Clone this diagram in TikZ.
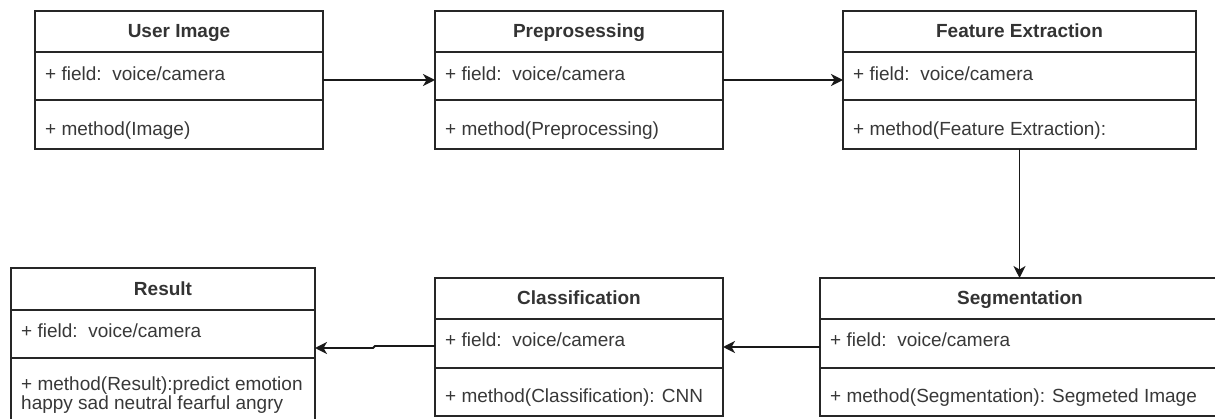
\documentclass[tikz,border=0pt]{standalone}
\usepackage{fontspec}
\setmainfont{Liberation Sans}
\usetikzlibrary{arrows.meta,calc}
\begin{document}
\begin{tikzpicture}[x=1pt,y=-1pt,
  sect/.style={draw=black!85, line width=1.8pt, inner sep=0pt, outer sep=0pt, anchor=north west},
  ttl/.style={anchor=base, inner sep=0pt, font=\bfseries\fontsize{19}{22}\selectfont, text=black!80},
  txt/.style={anchor=base west, inner sep=0pt, font=\fontsize{19}{22}\selectfont, text=black!78},
  conn/.style={draw=black!90, line width=1.8pt, -{Stealth[length=12pt,width=12pt,inset=3.5pt]}}]
\useasboundingbox (0,0) rectangle (1215,419);
\clip (0,0) rectangle (1215,419);

% User Image
\node[sect, minimum width=288pt, minimum height=41pt] (ui-t) at (35,11) {};
\node[sect, minimum width=288pt, minimum height=48pt] (ui-f) at (ui-t.south west) {};
\node[sect, minimum width=288pt, minimum height=49pt] (ui-m) at (ui-f.south west) {};
\node[ttl] (ui-tl) at ($(ui-t.north)+(0,27)$) {User Image};
\node[txt] (ui-fl) at ($(ui-f.north west)+(10,29)$) {+ field:\ \ voice/camera};
\node[txt] (ui-ml) at ($(ui-m.north west)+(10,36)$) {+ method(Image)};

% Preprocessing
\node[sect, minimum width=288pt, minimum height=41pt] (pp-t) at (435,11) {};
\node[sect, minimum width=288pt, minimum height=48pt] (pp-f) at (pp-t.south west) {};
\node[sect, minimum width=288pt, minimum height=49pt] (pp-m) at (pp-f.south west) {};
\node[ttl] (pp-tl) at ($(pp-t.north)+(0,27)$) {Preprosessing};
\node[txt] (pp-fl) at ($(pp-f.north west)+(10,29)$) {+ field:\ \ voice/camera};
\node[txt] (pp-ml) at ($(pp-m.north west)+(10,36)$) {+ method(Preprocessing)};

% Feature Extraction
\node[sect, minimum width=353pt, minimum height=41pt] (fe-t) at (843,11) {};
\node[sect, minimum width=353pt, minimum height=48pt] (fe-f) at (fe-t.south west) {};
\node[sect, minimum width=353pt, minimum height=49pt] (fe-m) at (fe-f.south west) {};
\node[ttl] (fe-tl) at ($(fe-t.north)+(0,27)$) {Feature Extraction};
\node[txt] (fe-fl) at ($(fe-f.north west)+(10,29)$) {+ field:\ \ voice/camera};
\node[txt] (fe-ml) at ($(fe-m.north west)+(10,36)$) {+ method(Feature Extraction):};

% Result
\node[sect, minimum width=304pt, minimum height=42pt] (rs-t) at (11,268) {};
\node[sect, minimum width=304pt, minimum height=48pt] (rs-f) at (rs-t.south west) {};
\node[sect, minimum width=304pt, minimum height=70pt] (rs-m) at (rs-f.south west) {};
\node[ttl] (rs-tl) at ($(rs-t.north)+(0,28)$) {Result};
\node[txt] (rs-fl) at ($(rs-f.north west)+(10,28)$) {+ field:\ \ voice/camera};
\node[txt] (rs-ml) at ($(rs-m.north west)+(10,32)$) {+ method(Result):predict emotion};
\node[txt] (rs-ml2) at ($(rs-m.north west)+(10,51)$) {happy sad neutral fearful angry};

% Classification
\node[sect, minimum width=288pt, minimum height=41pt] (cl-t) at (435,278) {};
\node[sect, minimum width=288pt, minimum height=49pt] (cl-f) at (cl-t.south west) {};
\node[sect, minimum width=288pt, minimum height=48pt] (cl-m) at (cl-f.south west) {};
\node[ttl] (cl-tl) at ($(cl-t.north)+(0,27)$) {Classification};
\node[txt] (cl-fl) at ($(cl-f.north west)+(10,28)$) {+ field:\ \ voice/camera};
\node[txt] (cl-ml) at ($(cl-m.north west)+(10,34)$) {+ method(Classification): CNN};

% Segmentation
\node[sect, minimum width=400pt, minimum height=41pt] (sg-t) at (820,278) {};
\node[sect, minimum width=400pt, minimum height=49pt] (sg-f) at (sg-t.south west) {};
\node[sect, minimum width=400pt, minimum height=48pt] (sg-m) at (sg-f.south west) {};
\node[ttl] (sg-tl) at ($(sg-t.north)+(0,27)$) {Segmentation};
\node[txt] (sg-fl) at ($(sg-f.north west)+(10,28)$) {+ field:\ \ voice/camera};
\node[txt] (sg-ml) at ($(sg-m.north west)+(10,34)$) {+ method(Segmentation): Segmeted Image};

% Connectors
\draw[conn] ([yshift=-4pt]ui-f.east) -- ([yshift=-4pt]pp-f.west);
\draw[conn] ([yshift=-4pt]pp-f.east) -- ([yshift=-4pt]fe-f.west);
\draw[conn] (fe-m.south) -- (fe-m.south |- sg-t.north);
\draw[conn] ([yshift=-3.5pt]sg-f.west) -- ([yshift=-3.5pt]cl-f.east);
\coordinate (j1) at (375,346);
\coordinate (j2) at (373,348);
\draw[conn] ([yshift=-2.5pt]cl-f.west) -- (j1) -- (j2) -- (rs-f.east |- j2);
\end{tikzpicture}
\end{document}
